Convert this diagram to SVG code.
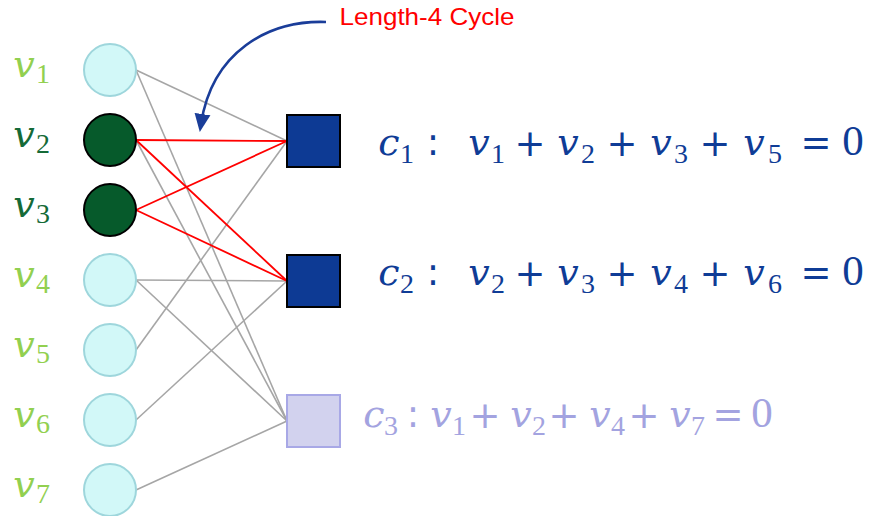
<svg xmlns="http://www.w3.org/2000/svg" width="875" height="516" viewBox="0 0 875 516">
<style>
.e{stroke:#A6A6A6;stroke-width:1.6;fill:none}
.r{stroke:#FF0000;stroke-width:1.8;fill:none}
.vl{fill:#D2F8F8;stroke:#9ED6DC;stroke-width:2}
.vd{fill:#065A2B;stroke:#000;stroke-width:2}
.cd{fill:#0D3A94;stroke:#000;stroke-width:2}
.cl{fill:#D2D2EE;stroke:#A8A8E6;stroke-width:2}
text{text-anchor:middle}
.i{font-family:"DejaVu Serif",serif;font-style:italic;font-size:38px}
.s{font-family:"Liberation Serif",serif;font-size:28px}
.o{font-family:"DejaVu Sans",sans-serif;font-size:37px}
.z{font-family:"Liberation Serif",serif;font-size:43px}
.lg{fill:#92D050}
.dg{fill:#156A37}
.eq{fill:#0F3C96}
.eq3{fill:#A3A3E0}
</style>
<defs>
<marker id="ah" markerUnits="userSpaceOnUse" markerWidth="20" markerHeight="20" refX="10" refY="10" orient="auto">
<path d="M0,2 L18,10 L0,18 Z" fill="#1A3D99"/>
</marker>
</defs>
<g id="connectors">
<line class="e" x1="136" y1="70" x2="287" y2="141"/>
<line class="e" x1="136" y1="350" x2="287" y2="141"/>
<line class="e" x1="136" y1="280" x2="287" y2="281"/>
<line class="e" x1="136" y1="420" x2="287" y2="281"/>
<line class="e" x1="136" y1="70" x2="287" y2="421"/>
<line class="e" x1="136" y1="140" x2="287" y2="421"/>
<line class="e" x1="136" y1="280" x2="287" y2="421"/>
<line class="e" x1="136" y1="490" x2="287" y2="421"/>
<line class="r" x1="136" y1="140" x2="287" y2="141"/>
<line class="r" x1="136" y1="210" x2="287" y2="141"/>
<line class="r" x1="136" y1="140" x2="287" y2="281"/>
<line class="r" x1="136" y1="210" x2="287" y2="281"/>
<path d="M326,22 C268,20 212,52 201,124" fill="none" stroke="#1A3D99" stroke-width="2.6" marker-end="url(#ah)"/>
</g>
<g id="v1"><circle class="vl" cx="110" cy="70" r="26"/><text class="lg"><tspan class="i" x="24" y="77">v</tspan><tspan class="s" x="43" y="83">1</tspan></text></g>
<g id="v2"><circle class="vd" cx="110" cy="140" r="26"/><text class="dg"><tspan class="i" x="24" y="147">v</tspan><tspan class="s" x="43" y="153">2</tspan></text></g>
<g id="v3"><circle class="vd" cx="110" cy="210" r="26"/><text class="dg"><tspan class="i" x="24" y="217">v</tspan><tspan class="s" x="43" y="223">3</tspan></text></g>
<g id="v4"><circle class="vl" cx="110" cy="280" r="26"/><text class="lg"><tspan class="i" x="24" y="287">v</tspan><tspan class="s" x="43" y="293">4</tspan></text></g>
<g id="v5"><circle class="vl" cx="110" cy="350" r="26"/><text class="lg"><tspan class="i" x="24" y="357">v</tspan><tspan class="s" x="43" y="363">5</tspan></text></g>
<g id="v6"><circle class="vl" cx="110" cy="420" r="26"/><text class="lg"><tspan class="i" x="24" y="427">v</tspan><tspan class="s" x="43" y="433">6</tspan></text></g>
<g id="v7"><circle class="vl" cx="110" cy="490" r="26"/><text class="lg"><tspan class="i" x="24" y="497">v</tspan><tspan class="s" x="43" y="503">7</tspan></text></g>
<g id="c1"><rect class="cd" x="287" y="115" width="53" height="52"/>
<text class="eq"><tspan class="i" x="389" y="155">c</tspan><tspan class="s" x="407" y="163">1</tspan><tspan class="o" x="433" y="155">:</tspan><tspan class="i" x="479" y="155">v</tspan><tspan class="s" x="498" y="163">1</tspan><tspan class="o" x="530" y="156">+</tspan><tspan class="i" x="568" y="155">v</tspan><tspan class="s" x="588" y="163">2</tspan><tspan class="o" x="622" y="156">+</tspan><tspan class="i" x="661" y="155">v</tspan><tspan class="s" x="681" y="163">3</tspan><tspan class="o" x="715" y="156">+</tspan><tspan class="i" x="754" y="155">v</tspan><tspan class="s" x="775" y="163">5</tspan><tspan class="o" x="816" y="155">=</tspan><tspan class="z" x="853" y="155">0</tspan></text></g>
<g id="c2"><rect class="cd" x="287" y="255" width="53" height="52"/>
<text class="eq"><tspan class="i" x="389" y="285">c</tspan><tspan class="s" x="407" y="293">2</tspan><tspan class="o" x="433" y="285">:</tspan><tspan class="i" x="479" y="285">v</tspan><tspan class="s" x="498" y="293">2</tspan><tspan class="o" x="530" y="286">+</tspan><tspan class="i" x="568" y="285">v</tspan><tspan class="s" x="588" y="293">3</tspan><tspan class="o" x="622" y="286">+</tspan><tspan class="i" x="661" y="285">v</tspan><tspan class="s" x="681" y="293">4</tspan><tspan class="o" x="715" y="286">+</tspan><tspan class="i" x="754" y="285">v</tspan><tspan class="s" x="775" y="293">6</tspan><tspan class="o" x="816" y="285">=</tspan><tspan class="z" x="853" y="285">0</tspan></text></g>
<g id="c3"><rect class="cl" x="287" y="395" width="53" height="52"/>
<text class="eq3"><tspan class="i" x="374" y="427">c</tspan><tspan class="s" x="391" y="435">3</tspan><tspan class="o" x="413" y="427">:</tspan><tspan class="i" x="441" y="427">v</tspan><tspan class="s" x="459" y="435">1</tspan><tspan class="o" x="485" y="428">+</tspan><tspan class="i" x="521" y="427">v</tspan><tspan class="s" x="539" y="435">2</tspan><tspan class="o" x="564" y="428">+</tspan><tspan class="i" x="600" y="427">v</tspan><tspan class="s" x="618" y="435">4</tspan><tspan class="o" x="644" y="428">+</tspan><tspan class="i" x="680" y="427">v</tspan><tspan class="s" x="698" y="435">7</tspan><tspan class="o" x="728" y="427">=</tspan><tspan class="z" x="762" y="427">0</tspan></text></g>
<g id="label"><text x="427" y="25" font-family="Liberation Sans, Arial, sans-serif" font-size="24" fill="#FF0000" textLength="175" lengthAdjust="spacingAndGlyphs">Length-4 Cycle</text></g>
</svg>
